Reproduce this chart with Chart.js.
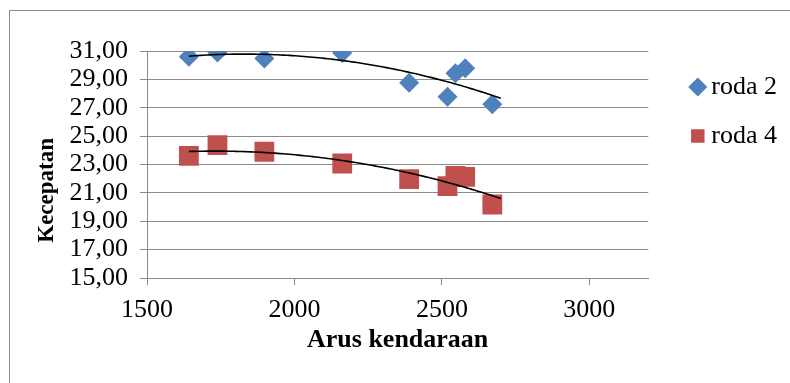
<!DOCTYPE html>
<html>
<head>
<meta charset="utf-8">
<script src="https://cdn.jsdelivr.net/npm/chart.js@4/dist/chart.umd.min.js"></script>
<style>
  html, body { margin: 0; padding: 0; background: #fff; }
  #wrap { width: 790px; height: 383px; }
</style>
</head>
<body>
<div id="wrap"><canvas id="chart" width="790" height="383"></canvas></div>
<script>
// values
const arusKendaraan = [1642, 1739, 1898, 2162, 2389, 2519, 2546, 2579, 2671];
const roda2 = [30.60, 30.90, 30.48, 30.86, 28.76, 27.78, 29.43, 29.78, 27.24];
const roda4 = [23.61, 24.37, 23.90, 23.07, 21.97, 21.47, 22.20, 22.13, 20.18];
const xTicks = [1500, 2000, 2500, 3000];
const yTicks = [15, 17, 19, 21, 23, 25, 27, 29, 31];
const xMax = 3200;
const trendEnd = 2700; // trendline runs a little past the last point

const GRID = '#8a8a8a';
const SERIF = "'Liberation Serif', 'Times New Roman', serif";

// order-2 polynomial trendline (least squares), like the spreadsheet one
function polyFit2(xs, ys) {
  let s = [0, 0, 0, 0, 0], t = [0, 0, 0];
  xs.forEach((x, i) => {
    let p = 1;
    for (let k = 0; k < 5; k++) { s[k] += p; if (k < 3) t[k] += p * ys[i]; p *= x; }
  });
  const m = [[s[0], s[1], s[2], t[0]], [s[1], s[2], s[3], t[1]], [s[2], s[3], s[4], t[2]]];
  for (let c = 0; c < 3; c++) {
    for (let r = c + 1; r < 3; r++) {
      const f = m[r][c] / m[c][c];
      for (let k = c; k < 4; k++) m[r][k] -= f * m[c][k];
    }
  }
  const a = [0, 0, 0];
  for (let r = 2; r >= 0; r--) {
    let v = m[r][3];
    for (let k = r + 1; k < 3; k++) v -= m[r][k] * a[k];
    a[r] = v / m[r][r];
  }
  return (x) => a[0] + a[1] * x + a[2] * x * x;
}

function trendPoints(xs, ys) {
  const f = polyFit2(xs, ys);
  const out = [];
  for (let x = xs[0]; x < trendEnd; x += 10) out.push({ x, y: f(x) });
  out.push({ x: trendEnd, y: f(trendEnd) });
  return out;
}

const pts = (ys) => arusKendaraan.map((x, i) => ({ x, y: ys[i] }));

const frame = {
  id: 'frame',
  beforeDraw(chart) {
    const ctx = chart.ctx;
    ctx.save();
    ctx.fillStyle = '#fff';
    ctx.fillRect(0, 0, chart.width, chart.height);
    ctx.strokeStyle = '#8c8c8c';
    ctx.lineWidth = 1;
    ctx.strokeRect(9.5, 10.5, 820, 420);
    ctx.restore();
  },
};

new Chart(document.getElementById('chart'), {
  type: 'scatter',
  data: {
    datasets: [
      {
        label: 'roda 2',
        data: pts(roda2),
        pointStyle: 'rectRot',
        pointRadius: 10,
        backgroundColor: '#4F81BD',
        borderColor: '#4F81BD',
        borderWidth: 0,
      },
      {
        label: 'roda 4',
        data: pts(roda4),
        pointStyle: 'rect',
        pointRadius: 14,
        backgroundColor: '#C0504D',
        borderColor: '#C0504D',
        borderWidth: 0,
      },
      {
        label: 'trend roda 2',
        data: trendPoints(arusKendaraan, roda2),
        showLine: true,
        pointRadius: 0,
        borderColor: '#000',
        borderWidth: 1.6,
        order: -1,
      },
      {
        label: 'trend roda 4',
        data: trendPoints(arusKendaraan, roda4),
        showLine: true,
        pointRadius: 0,
        borderColor: '#000',
        borderWidth: 1.6,
        order: -1,
      },
    ],
  },
  options: {
    responsive: false,
    animation: false,
    events: [],
    layout: { padding: { left: 20, top: 51, right: 3, bottom: 27 } },
    plugins: {
      tooltip: { enabled: false },
      legend: {
        position: 'right',
        align: 'start',
        labels: {
          usePointStyle: true,
          boxWidth: 1,
          boxHeight: 13.5,
          padding: 23,
          color: '#000',
          font: { family: SERIF, size: 26 },
          filter: (item) => item.datasetIndex < 2,
        },
      },
    },
    scales: {
      x: {
        type: 'linear',
        min: xTicks[0],
        max: xMax,
        afterBuildTicks: (s) => { s.ticks = xTicks.map((v) => ({ value: v })); },
        afterFit: (s) => { s.height = 78; s.paddingLeft = 0; s.paddingRight = 0; },
        grid: { drawOnChartArea: false, drawTicks: true, tickLength: 7, color: GRID },
        border: { color: GRID, width: 1 },
        ticks: {
          color: '#000',
          padding: 10,
          autoSkip: false,
          maxRotation: 0,
          font: { family: SERIF, size: 26 },
          callback: (v) => String(v),
        },
        title: {
          display: true,
          text: 'Arus kendaraan',
          color: '#000',
          padding: 0,
          font: { family: SERIF, size: 26, weight: 'bold' },
        },
      },
      y: {
        min: yTicks[0],
        max: yTicks[yTicks.length - 1],
        afterBuildTicks: (s) => { s.ticks = yTicks.map((v) => ({ value: v })); },
        afterFit: (s) => { s.width = 127; s.paddingTop = 0; s.paddingBottom = 0; },
        grid: { color: GRID, lineWidth: 1, tickLength: 7 },
        border: { color: GRID, width: 1 },
        ticks: {
          color: '#000',
          padding: 12,
          autoSkip: false,
          font: { family: SERIF, size: 26 },
          callback: (v) => v.toFixed(2).replace('.', ','),
        },
        title: {
          display: true,
          // trailing spaces push the label down, as in the original
          text: 'Kecepatan         ',
          color: '#000',
          padding: { top: 13, bottom: 0 },
          font: { family: SERIF, size: 23, weight: 'bold' },
        },
      },
      gap: {
        type: 'linear',
        position: 'right',
        display: true,
        grid: { display: false },
        border: { display: false },
        ticks: { display: false },
        afterFit: (s) => { s.width = 26; },
      },
    },
  },
  plugins: [frame],
});
</script>
</body>
</html>
